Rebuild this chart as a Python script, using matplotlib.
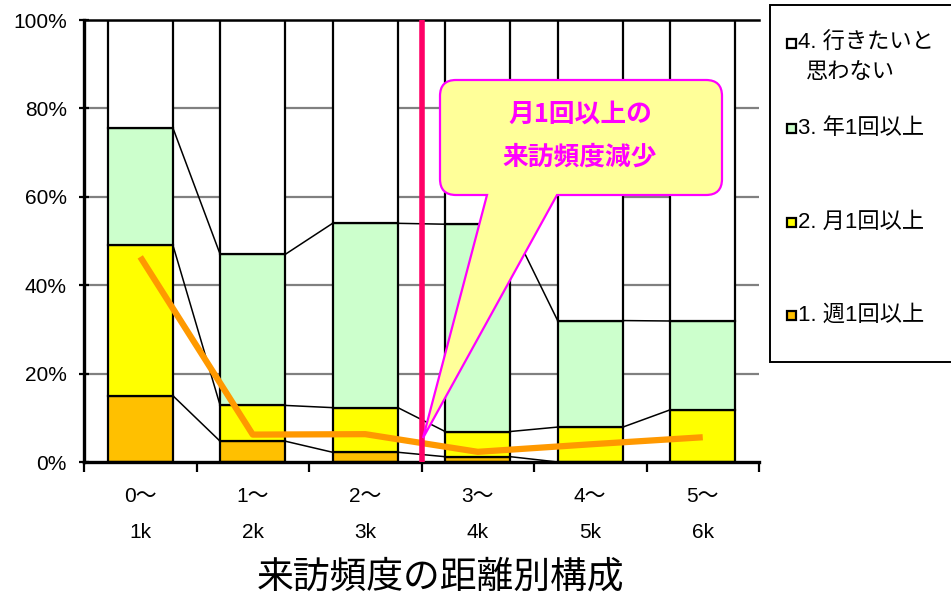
import matplotlib
matplotlib.use("Agg")
import matplotlib.pyplot as plt
import numpy as np
from matplotlib.path import Path
from matplotlib.patches import PathPatch, Rectangle

plt.rcParams['font.family'] = ['Liberation Sans', 'Noto Sans CJK JP']

# ---- data (% of respondents) ----
categories = ["0～\n1k", "1～\n2k", "2～\n3k", "3～\n4k", "4～\n5k", "5～\n6k"]
weekly   = [15.0, 4.7, 2.2, 1.2, 0.0, 0.0]       # 1. 週1回以上
monthly  = [34.1, 8.1, 10.1, 5.7, 7.9, 11.8]     # 2. 月1回以上
yearly   = [26.5, 34.2, 41.7, 46.9, 24.1, 20.1]  # 3. 年1回以上
never    = [24.4, 53.0, 46.0, 46.2, 68.0, 68.1]  # 4. 行きたいと思わない
trend    = [46.4, 6.2, 6.3, 2.3, 4.0, 5.6]       # orange trend line

series_names = ["1. 週1回以上", "2. 月1回以上", "3. 年1回以上",
                ["4. 行きたいと", "思わない"]]
series_colors = ["#FFC000", "#FFFF00", "#CCFFCC", "#FFFFFF"]
xlabel = "来訪頻度の距離別構成"
callout_lines = ["月1回以上の", "来訪頻度減少"]

W, H = 951, 598
fig = plt.figure(figsize=(W / 100, H / 100), dpi=100)


def P(x, y):
    """Pixel position -> figure fraction."""
    return (x / W, 1 - y / H)


ax = fig.add_axes([84 / W, 1 - 462 / H, (759 - 84) / W, (462 - 20) / H])
x = np.arange(len(categories))
bw = 0.58

stack = [weekly, monthly, yearly, never]
bottom = np.zeros(len(x))
tops = []
for vals, col in zip(stack, series_colors):
    vals = np.array(vals)
    ax.bar(x, vals, bw, bottom=bottom, color=col, edgecolor="black",
           linewidth=1.6, zorder=2)
    bottom = bottom + vals
    tops.append(bottom.copy())

# series connector lines between adjacent bars
for t in tops[:-1]:
    for i in range(len(x) - 1):
        ax.plot([x[i] + bw / 2, x[i + 1] - bw / 2], [t[i], t[i + 1]],
                color="black", lw=1.1, zorder=1.5)

ax.plot(x, trend, color="#FF9900", lw=4.5, zorder=4, solid_capstyle="butt")

# divider between 2~3k and 3~4k
ax.axvline(2.5, ymin=0, ymax=0.995, color="#FF0066", lw=4, zorder=5)

ax.set_xlim(-0.5, 5.5)
ax.set_ylim(0, 100)
ax.set_yticks(np.arange(0, 101, 20))
ax.set_yticklabels([f"{v}%" for v in range(0, 101, 20)], fontsize=15)
ax.set_xticks(x)
ax.set_xticklabels(categories, fontsize=15, linespacing=2.15)
ax.set_xticks(np.arange(-0.5, 5.6, 1), minor=True)
ax.tick_params(axis="x", which="major", length=0, pad=18)
ax.tick_params(axis="x", which="minor", length=7, width=1.6, direction="out")
ax.tick_params(axis="y", length=7, width=1.6, direction="inout", pad=9)

for yv in range(20, 100, 20):
    ax.axhline(yv, color="#808080", lw=1.6, zorder=0.5)

ax.spines["right"].set_visible(False)
ax.spines["left"].set_linewidth(2.4)
ax.spines["bottom"].set_linewidth(2.4)
ax.spines["top"].set_linewidth(1.8)

fig.text(*P(441, 578), xlabel, fontsize=26.5, ha="center", va="center")

# ---- callout balloon ----
L, R, T, B, r = 440, 722, 80, 195, 16
tip = (423, 438)
pts = [
    ((L + r, T), Path.MOVETO),
    ((R - r, T), Path.LINETO),
    ((R, T), Path.CURVE3), ((R, T + r), Path.CURVE3),
    ((R, B - r), Path.LINETO),
    ((R, B), Path.CURVE3), ((R - r, B), Path.CURVE3),
    ((557, B), Path.LINETO),
    (tip, Path.LINETO),
    ((487, B), Path.LINETO),
    ((L + r, B), Path.LINETO),
    ((L, B), Path.CURVE3), ((L, B - r), Path.CURVE3),
    ((L, T + r), Path.LINETO),
    ((L, T), Path.CURVE3), ((L + r, T), Path.CURVE3),
    ((L + r, T), Path.CLOSEPOLY),
]
verts = [P(*p) for p, _ in pts]
codes = [c for _, c in pts]
fig.patches.append(PathPatch(Path(verts, codes), transform=fig.transFigure,
                             facecolor="#FFFF99", edgecolor="#FF00FF",
                             lw=1.6, zorder=10))
for yy, line in zip([114, 157], callout_lines):
    fig.text(*P(580, yy), line, fontsize=18.5, fontweight="bold",
             color="#FF00FF", ha="center", va="center", zorder=11,
             family=["Noto Sans CJK JP"])

# ---- legend box ----
fig.patches.append(Rectangle(P(770, 362), (W - 770 + 5) / W, (362 - 5) / H,
                             transform=fig.transFigure, facecolor="white",
                             edgecolor="black", lw=1.4, zorder=9))
legend_y = [43, 128, 222, 315]
order = [3, 2, 1, 0]
for yy, k in zip(legend_y, order):
    sq = 9
    fig.patches.append(Rectangle(P(787, yy + sq / 2), sq / W, sq / H,
                                 transform=fig.transFigure,
                                 facecolor=series_colors[k], edgecolor="black",
                                 lw=1.6, zorder=10))
    name = series_names[k]
    if isinstance(name, list):
        fig.text(*P(798, yy), name[0], fontsize=16, ha="left", va="center",
                 zorder=11)
        fig.text(*P(806, yy + 29), name[1], fontsize=16, ha="left",
                 va="center", zorder=11)
    else:
        fig.text(*P(798, yy), name, fontsize=16, ha="left", va="center",
                 zorder=11)

fig.savefig("out.png", dpi=100)
